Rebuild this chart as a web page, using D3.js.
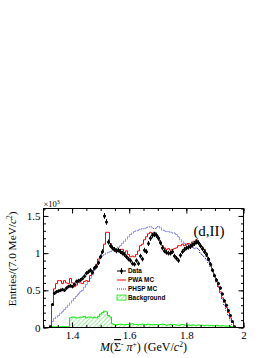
<!DOCTYPE html>
<html><head><meta charset="utf-8">
<script src="https://cdn.jsdelivr.net/npm/d3@7/dist/d3.min.js"></script>
<style>body{margin:0;background:#fff}svg{display:block}</style>
</head><body>
<svg id="c" width="277" height="358"></svg>
<script>
// ---- data (units of 10^3 entries per 7 MeV bin) ----
const massMin = 1.3, binWidth = 0.007;
const dataVals = [0,0,0,0.01,0.31,0.46,0.48,0.49,0.5,0.51,
 0.5,0.53,0.55,0.56,0.55,0.58,0.62,0.63,0.64,0.66,
 0.69,0.73,0.75,0.77,0.74,0.8,0.82,0.87,0.95,1.02,
 1.5,1.42,1.15,1.1,1.07,1.05,1.03,1.04,1.02,1.0,
 0.98,0.95,0.92,0.9,0.86,0.85,0.9,0.86,0.96,0.92,
 1.04,1.02,1.13,1.2,1.24,1.25,1.24,1.2,1.14,1.07,
 1.03,1.01,1.0,1.0,1.02,0.96,0.93,0.9,0.97,1.02,
 1.05,1.07,1.08,1.09,1.11,1.13,1.15,1.14,1.1,1.06,
 1.02,0.98,0.92,0.85,0.77,0.7,0.64,0.59,0.53,0.45,
 0.36,0.3,0.23,0.16,0.08,0.01,0,0,0,0];
const pwaVals = [0,0,0,0.02,0.3,0.52,0.59,0.63,0.63,0.59,
 0.63,0.6,0.59,0.66,0.6,0.55,0.57,0.61,0.6,0.59,
 0.62,0.63,0.62,0.7,0.76,0.8,0.85,0.92,0.95,1.02,
 1.12,1.28,1.28,1.13,1.07,1.06,1.05,1.03,1.05,1.05,
 1.0,1.03,0.98,0.95,0.96,0.95,0.98,1.03,1.1,1.12,
 1.18,1.22,1.26,1.28,1.26,1.28,1.25,1.2,1.15,1.1,
 1.07,1.05,1.06,1.04,1.05,1.06,1.07,1.1,1.1,1.12,
 1.1,1.12,1.13,1.12,1.15,1.16,1.18,1.14,1.1,1.08,
 1.05,1.0,0.93,0.85,0.78,0.7,0.62,0.55,0.48,0.4,
 0.34,0.27,0.2,0.13,0.07,0.02,0,0,0,0];
const phspVals = [0,0,0,0.03,0.08,0.12,0.14,0.16,0.19,0.21,
 0.24,0.27,0.3,0.33,0.36,0.39,0.42,0.45,0.48,0.5,
 0.54,0.58,0.62,0.66,0.71,0.77,0.82,0.88,0.93,0.96,
 0.98,1.0,1.01,1.02,1.03,1.04,1.06,1.08,1.1,1.13,
 1.16,1.19,1.22,1.25,1.27,1.29,1.3,1.31,1.32,1.33,
 1.33,1.34,1.35,1.355,1.34,1.33,1.34,1.36,1.34,1.31,
 1.3,1.29,1.29,1.28,1.27,1.27,1.25,1.22,1.18,1.15,
 1.13,1.12,1.11,1.1,1.08,1.06,1.07,1.05,1.0,0.97,
 0.95,0.91,0.87,0.82,0.76,0.68,0.61,0.54,0.46,0.38,
 0.3,0.23,0.16,0.1,0.04,0.01,0,0,0,0];
const bkgVals = [0,0,0,0.01,0.01,0.01,0.01,0.01,0.01,0.01,
 0.01,0.01,0.01,0.13,0.14,0.14,0.13,0.13,0.14,0.14,
 0.15,0.13,0.14,0.14,0.13,0.14,0.13,0.15,0.18,0.2,
 0.22,0.21,0.16,0.14,0.05,0.04,0.035,0.04,0.045,0.04,
 0.035,0.04,0.04,0.045,0.05,0.04,0.04,0.035,0.04,0.045,
 0.04,0.04,0.045,0.04,0.035,0.04,0.04,0.035,0.04,0.045,
 0.04,0.03,0.035,0.04,0.035,0.04,0.035,0.03,0.035,0.04,
 0.035,0.03,0.035,0.03,0.035,0.03,0.03,0.035,0.03,0.03,
 0.025,0.03,0.03,0.025,0.03,0.025,0.03,0.025,0.02,0.025,
 0.02,0.02,0.02,0.015,0.01,0.01,0,0,0,0];
const xDomain = [1.3, 2.0], yDomain = [0, 1.6];
const xMajor = [1.4, 1.6, 1.8, 2.0], xTickLabels = ["1.4","1.6","1.8","2"];
const yMajor = [0, 0.5, 1, 1.5], yTickLabels = ["0","0.5","1","1.5"];
const xMinorStep = 0.05, yMinorStep = 0.1;
const legendLabels = ["Data","PWA MC","PHSP MC","Background"];

// ---- layout ----
const L = 43.5, R = 243.5, T = 208.5, B = 327.5;
const svg = d3.select("#c");
svg.append("rect").attr("width",277).attr("height",358).attr("fill","#fff");
const x = d3.scaleLinear().domain(xDomain).range([L, R]);
const y = d3.scaleLinear().domain(yDomain).range([B, T]);
const serif = "'Liberation Serif','Times New Roman',serif";
const sans = "'Liberation Sans',Arial,sans-serif";

const defs = svg.append("defs");
const pat = defs.append("pattern").attr("id","hatch").attr("patternUnits","userSpaceOnUse")
  .attr("width",3).attr("height",3).attr("patternTransform","rotate(45)");
pat.append("rect").attr("width",3).attr("height",3).attr("fill","#fff");
pat.append("line").attr("x1",0).attr("y1",0).attr("x2",0).attr("y2",3)
  .attr("stroke","#44dd44").attr("stroke-width",1.0);
defs.append("clipPath").attr("id","fr").append("rect")
  .attr("x",L).attr("y",T).attr("width",R-L).attr("height",B-T);

const edges = i => massMin + binWidth*i;
function stepPts(vals){
  const pts = [];
  vals.forEach((v,i)=>{ pts.push([edges(i), v]); pts.push([edges(i+1), v]); });
  return pts;
}
const line = d3.line().x(d=>x(d[0])).y(d=>y(d[1]));
const area = d3.area().x(d=>x(d[0])).y0(y(0)).y1(d=>y(d[1]));

const g = svg.append("g").attr("clip-path","url(#fr)");
g.append("path").attr("d", area(stepPts(bkgVals))).attr("fill","url(#hatch)");
g.append("path").attr("d", line(stepPts(phspVals))).attr("fill","none")
  .attr("stroke","#2a2aff").attr("stroke-width",0.9).attr("stroke-dasharray","1,1");
g.append("path").attr("d", line(stepPts(pwaVals))).attr("fill","none")
  .attr("stroke","#ff0000").attr("stroke-width",1);
g.append("path").attr("d", line(stepPts(bkgVals))).attr("fill","none")
  .attr("stroke","#00ee00").attr("stroke-width",1);

// data points with errors
const pts = dataVals.map((v,i)=>({m: massMin + binWidth*(i+0.5), lo: edges(i), hi: edges(i+1), v, e: Math.sqrt(v*1000)/1000}))
  .filter(d=>d.v>0);
const dg = g.append("g");
dg.selectAll("line.ey").data(pts).join("line").attr("x1",d=>x(d.m)).attr("x2",d=>x(d.m))
  .attr("y1",d=>y(d.v-d.e)).attr("y2",d=>y(d.v+d.e)).attr("stroke","#000").attr("stroke-width",1);
dg.selectAll("line.ex").data(pts).join("line").attr("x1",d=>x(d.lo)).attr("x2",d=>x(d.hi))
  .attr("y1",d=>y(d.v)).attr("y2",d=>y(d.v)).attr("stroke","#000").attr("stroke-width",1);
dg.selectAll("circle").data(pts).join("circle").attr("cx",d=>x(d.m)).attr("cy",d=>y(d.v))
  .attr("r",1.5).attr("fill","#000");

// ---- axes ----
const xMinor = d3.range(xDomain[0], xDomain[1]+1e-9, xMinorStep);
const yMinor = d3.range(yDomain[0], yDomain[1]+1e-9, yMinorStep);
function styleAxis(sel){ sel.select(".domain").remove(); sel.selectAll("line").attr("stroke","#000"); }
svg.append("g").attr("transform",`translate(0,${B})`)
  .call(d3.axisBottom(x).tickValues(xMinor).tickSize(-2.5).tickFormat(""))
  .call(styleAxis);
svg.append("g").attr("transform",`translate(0,${B})`)
  .call(d3.axisBottom(x).tickValues(xMajor).tickSize(-5).tickPadding(4).tickFormat((d,i)=>xTickLabels[i]))
  .call(styleAxis)
  .call(s=>s.selectAll("text").attr("font-family",serif).attr("font-size",11).attr("fill","#000"));
svg.append("g").attr("transform",`translate(0,${T})`)
  .call(d3.axisTop(x).tickValues(xMinor).tickSize(-2.5).tickFormat("")).call(styleAxis);
svg.append("g").attr("transform",`translate(0,${T})`)
  .call(d3.axisTop(x).tickValues(xMajor).tickSize(-5).tickFormat("")).call(styleAxis);
svg.append("g").attr("transform",`translate(${L},0)`)
  .call(d3.axisLeft(y).tickValues(yMinor).tickSize(-2.5).tickFormat("")).call(styleAxis);
svg.append("g").attr("transform",`translate(${L},0)`)
  .call(d3.axisLeft(y).tickValues(yMajor).tickSize(-5).tickPadding(3).tickFormat((d,i)=>yTickLabels[i]))
  .call(styleAxis)
  .call(s=>s.selectAll("text").attr("font-family",serif).attr("font-size",11).attr("fill","#000"));
svg.append("g").attr("transform",`translate(${R},0)`)
  .call(d3.axisRight(y).tickValues(yMinor).tickSize(-2.5).tickFormat("")).call(styleAxis);
svg.append("g").attr("transform",`translate(${R},0)`)
  .call(d3.axisRight(y).tickValues(yMajor).tickSize(-5).tickFormat("")).call(styleAxis);
svg.append("rect").attr("x",L).attr("y",T).attr("width",R-L).attr("height",B-T)
  .attr("fill","none").attr("stroke","#000").attr("stroke-width",1);

// exponent
const ex = svg.append("text").attr("x",L).attr("y",T-2).attr("font-family",serif).attr("font-size",8.5).attr("fill","#000");
ex.append("tspan").text("×10");
ex.append("tspan").attr("font-size",6).attr("dy",-3).text("3");

// y title
const yt = svg.append("text").attr("transform",`translate(16,${T+3}) rotate(-90)`)
  .attr("text-anchor","end").attr("font-family",serif).attr("font-size",11.3).attr("fill","#000");
yt.append("tspan").text("Entries/(7.0 MeV/");
yt.append("tspan").attr("font-style","italic").text("c");
yt.append("tspan").attr("font-size",7.5).attr("dy",-4).text("2");
yt.append("tspan").attr("dy",4).text(")");

// x title
const xt = svg.append("text").attr("x",(L+R)/2).attr("y",351).attr("text-anchor","middle")
  .attr("font-family",serif).attr("font-size",12).attr("fill","#000");
xt.append("tspan").attr("font-style","italic").text("M");
xt.append("tspan").text("(");
xt.append("tspan").attr("text-decoration","overline").text("Σ");
xt.append("tspan").attr("font-size",7.5).attr("dy",-4).text("-");
xt.append("tspan").attr("dy",4).attr("font-style","italic").text(" π");
xt.append("tspan").attr("font-size",7.5).attr("dy",-4).text("+");
xt.append("tspan").attr("dy",4).text(") (GeV/");
xt.append("tspan").attr("font-style","italic").text("c");
xt.append("tspan").attr("font-size",7.5).attr("dy",-4).text("2");
xt.append("tspan").attr("dy",4).text(")");

// panel label
svg.append("text").attr("x",209).attr("y",236).attr("text-anchor","middle")
  .attr("font-family",serif).attr("font-size",15).attr("fill","#000").text("(d,II)");

// legend
const lgX0 = 117, lgX1 = 126, lgTx = 128, rows = [271, 280, 289, 297.6];
const lg = svg.append("g");
lg.append("line").attr("x1",lgX0).attr("x2",lgX1).attr("y1",rows[0]).attr("y2",rows[0]).attr("stroke","#000");
lg.append("line").attr("x1",(lgX0+lgX1)/2).attr("x2",(lgX0+lgX1)/2).attr("y1",rows[0]-3).attr("y2",rows[0]+3).attr("stroke","#000");
lg.append("circle").attr("cx",(lgX0+lgX1)/2).attr("cy",rows[0]).attr("r",1.5).attr("fill","#000");
lg.append("line").attr("x1",lgX0).attr("x2",lgX1).attr("y1",rows[1]).attr("y2",rows[1]).attr("stroke","#ff0000");
lg.append("line").attr("x1",lgX0).attr("x2",lgX1).attr("y1",rows[2]).attr("y2",rows[2]).attr("stroke","#2a2aff").attr("stroke-dasharray","1,1");
lg.append("rect").attr("x",lgX0).attr("y",rows[3]-2.5).attr("width",lgX1-lgX0).attr("height",5)
  .attr("fill","url(#hatch)").attr("stroke","#00ee00").attr("stroke-width",0.8);
lg.selectAll("text").data(legendLabels).join("text").attr("x",lgTx).attr("y",(d,i)=>rows[i]+2.2)
  .attr("font-family",sans).attr("font-weight","bold").attr("font-size",6.4).attr("fill","#000").text(d=>d);
</script>
</body></html>
